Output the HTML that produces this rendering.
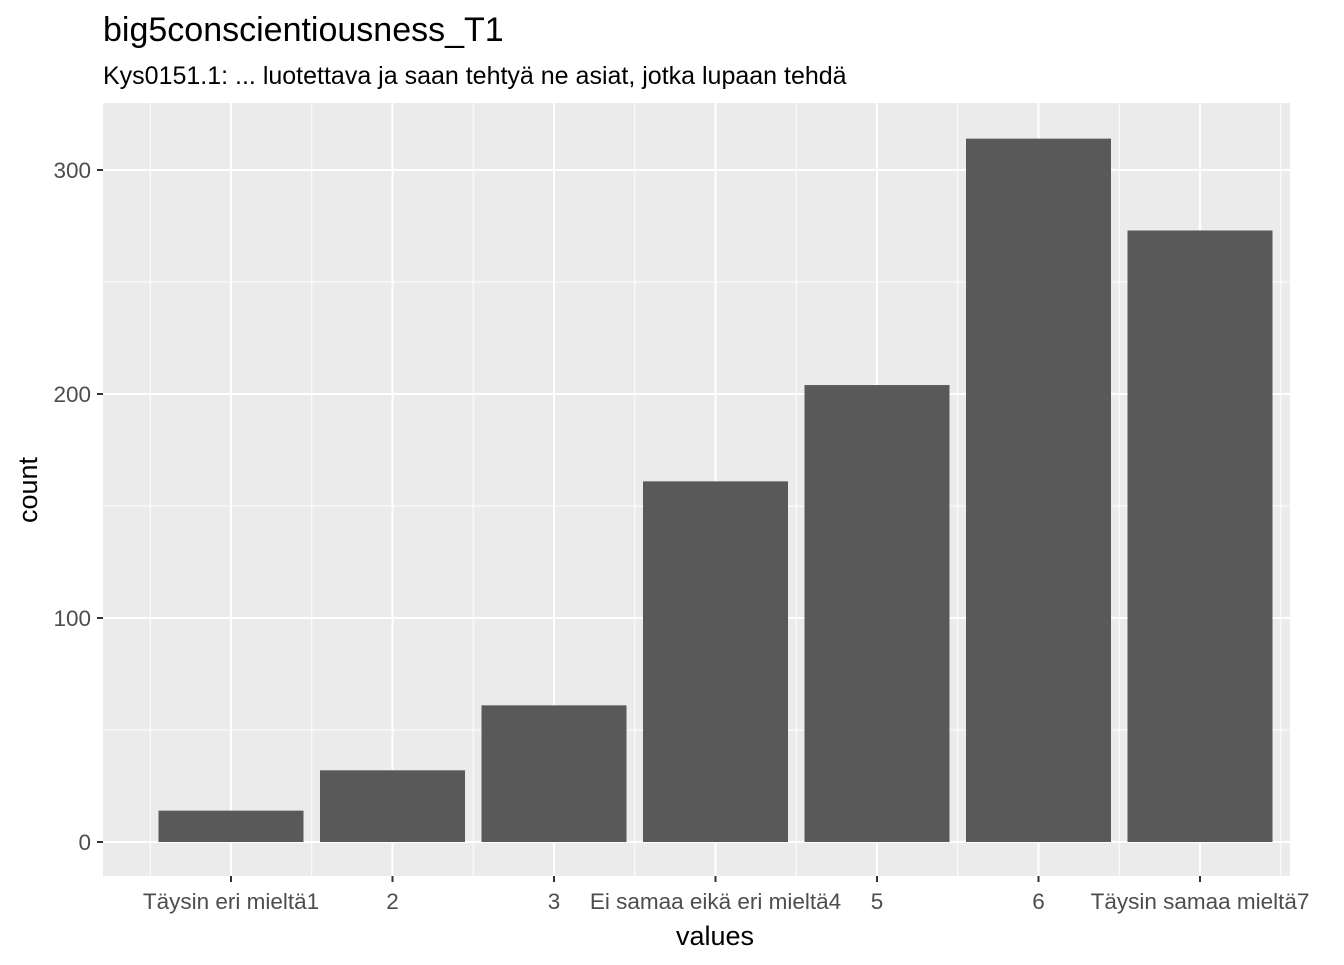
<!DOCTYPE html>
<html><head><meta charset="utf-8"><style>
body{margin:0;background:#fff;}
svg text{font-family:"Liberation Sans",Arial,sans-serif;}
</style></head><body>
<svg width="1344" height="960" xmlns="http://www.w3.org/2000/svg">
<text x="103" y="41" font-size="34" fill="#000">big5conscientiousness_T1</text>
<text x="103" y="84" font-size="25" fill="#000">Kys0151.1: ... luotettava ja saan tehtyä ne asiat, jotka lupaan tehdä</text>
<rect x="103" y="103" width="1187" height="773" fill="#ebebeb"/>
<g id="grid"></g>
<g id="bars"></g>
<g id="axes"></g>
<text x="715" y="945" font-size="27" text-anchor="middle" fill="#000">values</text>
<text transform="translate(37,490) rotate(-90)" font-size="27" text-anchor="middle" fill="#000">count</text>
</svg>
<script>
const categories=["Täysin eri mieltä1","2","3","Ei samaa eikä eri mieltä4","5","6","Täysin samaa mieltä7"];
const counts=[14,32,61,161,204,314,273];
const yTicks=[0,100,200,300];
const yMinor=[50,150,250];
const NS="http://www.w3.org/2000/svg";
const px0=103,px1=1290,py0=103,py1=876;
const y=v=>842-v*2.24;
const step=161.5,x0=231;
const x=i=>x0+i*step;
const bw=145;
function mk(t,a,p){const e=document.createElementNS(NS,t);for(const k in a)e.setAttribute(k,a[k]);p.appendChild(e);return e;}
const g=document.getElementById('grid'),b=document.getElementById('bars'),ax=document.getElementById('axes');
yMinor.forEach(v=>{const l=mk('line',{x1:px0,x2:px1,y1:y(v),y2:y(v),stroke:'#fff','stroke-width':1},g);

});
for(let i=-0.5;i<categories.length;i++){const l=mk('line',{x1:x(i),x2:x(i),y1:py0,y2:py1,stroke:'#fff','stroke-width':1},g);

}
yTicks.forEach(v=>{const l=mk('line',{x1:px0,x2:px1,y1:y(v),y2:y(v),stroke:'#fff','stroke-width':2},g);


const t=mk('line',{x1:97,x2:103,y1:y(v),y2:y(v),stroke:'#333','stroke-width':2},ax);


const tx=mk('text',{x:91,y:y(v)+8,'font-size':22.5,'text-anchor':'end',fill:'#4d4d4d'},ax);tx.textContent=v;

});
categories.forEach((c,i)=>{const l=mk('line',{x1:x(i),x2:x(i),y1:py0,y2:py1,stroke:'#fff','stroke-width':2},g);


const r=mk('rect',{x:x(i)-bw/2,y:y(counts[i]),width:bw,height:y(0)-y(counts[i]),fill:'#595959'},b);


const t=mk('line',{x1:x(i),x2:x(i),y1:876,y2:882,stroke:'#333','stroke-width':2},ax);


const tx=mk('text',{x:x(i),y:909,'font-size':22.5,'text-anchor':'middle',fill:'#4d4d4d'},ax);tx.textContent=c;

});
</script>
</body></html>
